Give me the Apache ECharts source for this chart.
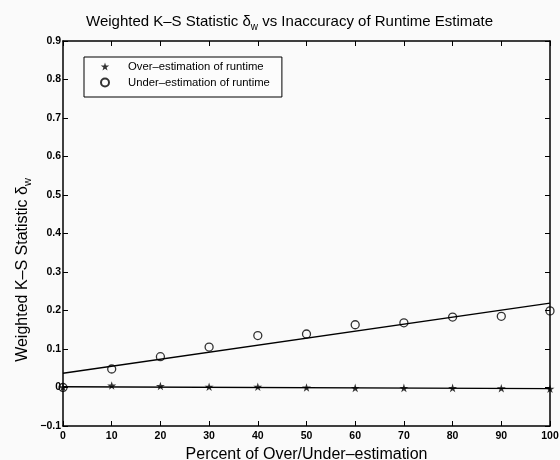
<!DOCTYPE html>
<html>
<head>
<meta charset="utf-8">
<script src="https://cdn.jsdelivr.net/npm/echarts@6/dist/echarts.min.js"></script>
<style>html,body{margin:0;padding:0;background:#fafafa;overflow:hidden;}#c{width:560px;height:460px;}</style>
</head>
<body>
<div id="c"></div>
<script>
var percents = [0, 10, 20, 30, 40, 50, 60, 70, 80, 90, 100];
var overEst = [0.001, 0.005, 0.004, 0.002, 0.002, 0.000, -0.001, -0.001, -0.001, -0.002, -0.003];
var underEst = [0.000, 0.048, 0.080, 0.105, 0.135, 0.139, 0.163, 0.168, 0.183, 0.185, 0.199];
var fitX = [0, 100];
var overFit = [0.002, -0.003];
var underFit = [0.037, 0.219];
var xTicks = {min: 0, max: 100, step: 10};
var yTicks = {min: -0.1, max: 0.9, step: 0.1};

var FONT = '"Liberation Sans", Arial, Helvetica, sans-serif';
var STAR = 'path://M50,0 L61,35 L98,35 L68,57 L79,91 L50,70 L21,91 L32,57 L2,35 L39,35 Z';

function pairs(xs, ys) { return xs.map(function (x, i) { return [x, ys[i]]; }); }
function yFmt(v) {
  if (Math.abs(v) < 1e-9) return '0';
  var s = v.toFixed(1);
  return s.replace('-', '\u2212');
}
var axisLine = {show: true, onZero: false, lineStyle: {color: '#000', width: 1.5}};
var tick = {show: true, inside: true, length: 5, lineStyle: {color: '#000', width: 1}};
var lbl = {color: '#000', fontSize: 10.5, fontFamily: FONT, fontWeight: 'bold'};

var chart = echarts.init(document.getElementById('c'), null, {renderer: 'canvas'});
chart.setOption({
  backgroundColor: '#fafafa',
  animation: false,
  title: {
    text: 'Weighted K\u2013S Statistic \u03b4{sub|w} vs Inaccuracy of Runtime Estimate',
    left: 86, top: 12, padding: 0,
    textStyle: {
      color: '#000', fontSize: 15, fontWeight: 'normal', fontFamily: FONT,
      rich: {sub: {fontSize: 10, fontFamily: FONT, color: '#000', padding: [10, 0, 0, 0]}}
    }
  },
  grid: {left: 63, right: 10, top: 41, bottom: 34, containLabel: false, outerBoundsMode: 'none'},
  legend: {
    left: 84, top: 57, orient: 'vertical',
    data: ['Over\u2013estimation of runtime', 'Under\u2013estimation of runtime'],
    itemWidth: 10, itemHeight: 8, itemGap: 3,
    padding: [3, 12, 8, 16],
    borderColor: '#000', borderWidth: 1, backgroundColor: '#fcfcfc',
    textStyle: {color: '#000', fontSize: 11.3, fontFamily: FONT, lineHeight: 13, padding: [0, 0, 0, 13]},
    selectedMode: false
  },
  graphic: [{
    type: 'text', x: 23, y: 270, rotation: Math.PI / 2,
    style: {
      text: 'Weighted K\u2013S Statistic \u03b4{sub|w}',
      fill: '#000', fontSize: 16, fontFamily: FONT,
      align: 'center', verticalAlign: 'middle',
      rich: {sub: {fontSize: 11, fontFamily: FONT, fill: '#000', padding: [10, 0, 0, 0]}}
    }
  }],
  xAxis: [{
    type: 'value', position: 'bottom', min: xTicks.min, max: xTicks.max, interval: xTicks.step,
    name: 'Percent of Over/Under\u2013estimation', nameLocation: 'middle', nameGap: 19,
    nameTextStyle: {color: '#000', fontSize: 16, fontFamily: FONT},
    axisLine: axisLine, axisTick: tick, splitLine: {show: false},
    axisLabel: Object.assign({margin: 5}, lbl)
  }, {
    type: 'value', position: 'top', min: xTicks.min, max: xTicks.max, interval: xTicks.step,
    axisLine: axisLine, axisTick: tick, splitLine: {show: false}, axisLabel: {show: false}
  }],
  yAxis: [{
    type: 'value', position: 'left', min: yTicks.min, max: yTicks.max, interval: yTicks.step,
    axisLine: axisLine, axisTick: tick, splitLine: {show: false},
    axisLabel: Object.assign({margin: 2, formatter: yFmt}, lbl)
  }, {
    type: 'value', position: 'right', min: yTicks.min, max: yTicks.max, interval: yTicks.step,
    axisLine: axisLine, axisTick: tick, splitLine: {show: false}, axisLabel: {show: false}
  }],
  series: [{
    name: 'Over\u2013estimation fit', type: 'line', data: pairs(fitX, overFit),
    symbol: 'none', lineStyle: {color: '#000', width: 1.3}, z: 2, silent: true
  }, {
    name: 'Under\u2013estimation fit', type: 'line', data: pairs(fitX, underFit),
    symbol: 'none', lineStyle: {color: '#000', width: 1.3}, z: 2, silent: true
  }, {
    name: 'Over\u2013estimation of runtime', type: 'scatter', data: pairs(percents, overEst),
    symbol: STAR, symbolSize: 9, symbolKeepAspect: true,
    itemStyle: {color: '#000'}, z: 3
  }, {
    name: 'Under\u2013estimation of runtime', type: 'scatter', data: pairs(percents, underEst),
    symbol: 'circle', symbolSize: 8,
    itemStyle: {color: 'rgba(0,0,0,0)', borderColor: '#000', borderWidth: 1.3}, z: 3
  }]
});
</script>
</body>
</html>
